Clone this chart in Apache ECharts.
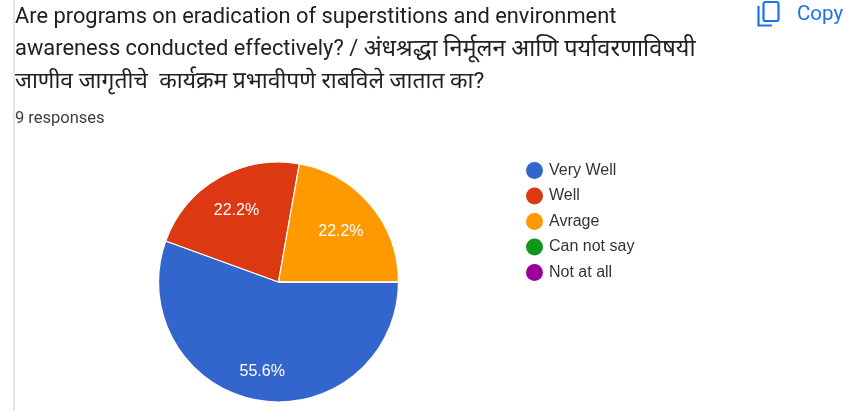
<!DOCTYPE html>
<html><head><meta charset="utf-8">
<style>html,body{margin:0;padding:0;background:#fff}#c{width:846px;height:411px}</style>
<script src="https://cdn.jsdelivr.net/npm/echarts@6/dist/echarts.min.js"></script>
</head><body><div id="c"></div>
<script>
const categories = ['Very Well','Well','Avrage','Can not say','Not at all'];
const responses = [5,2,2,0,0];
const colors = ['#3366cc','#dc3912','#ff9900','#109618','#990099'];
const titleLines = [
 '{en|Are programs on eradication of superstitions and environment}',
 '{en|awareness conducted effectively? / }{hi2|अंधश्रद्धा निर्मूलन आणि पर्यावरणाविषयी}',
 '{hi3|जाणीव जागृतीचे  कार्यक्रम प्रभावीपणे राबविले जातात का?}'
];
const subtitle = '9 responses';
const copyLabel = 'Copy';
const slices = categories.map((name,i)=>({name,value:responses[i]}));
const titleFont = 'Roboto, "Noto Sans", sans-serif';
const labelNudge = [[-1,3],[2,5],[-5,6],[0,0],[0,0]];
const chart = echarts.init(document.getElementById('c'),null,{renderer:'canvas'});
chart.setOption({
 animation:false,
 color:colors,
 title:[
  ...titleLines.map((t,i)=>({text:t,left:15,top:4+i*32,padding:0,textStyle:{fontFamily:titleFont,fontSize:22,fontWeight:400,color:'#212121',lineHeight:28,
    rich:{en:{fontFamily:titleFont,fontSize:21.85,color:'#212121',lineHeight:28},
          hi2:{fontFamily:titleFont,fontSize:23.5,color:'#212121',lineHeight:28},
          hi3:{fontFamily:titleFont,fontSize:22.85,color:'#212121',lineHeight:28}}}})),
  {text:subtitle,left:15,top:110,padding:0,textStyle:{fontFamily:titleFont,fontSize:16.5,fontWeight:400,color:'#3c4043',lineHeight:18}},
  {text:copyLabel,left:797,top:5,padding:0,textStyle:{fontFamily:titleFont,fontSize:20.5,fontWeight:400,color:'#1a73e8',lineHeight:20}}
 ],
 legend:{
  orient:'vertical',left:526,top:162,itemWidth:17,itemHeight:17,itemGap:8.5,icon:'circle',padding:0,
  itemStyle:{borderWidth:0},
  textStyle:{fontFamily:'"Liberation Sans", Arial, sans-serif',fontSize:16,color:'#333',padding:[0,0,0,1]},
  data:categories
 },
 series:[
  {type:'pie',center:[278.5,282],radius:[0,120],startAngle:0,clockwise:true,
   itemStyle:{borderColor:'#fff',borderWidth:1.2},label:{show:false},labelLine:{show:false},silent:true,data:slices},
  {type:'pie',center:[278.5,282],radius:[50,120],startAngle:0,clockwise:true,silent:true,
   itemStyle:{color:'rgba(0,0,0,0)',borderWidth:0},
   label:{show:true,position:'inside',color:'#fff',fontFamily:'"Liberation Sans", Arial, sans-serif',fontSize:16,
     formatter:p=>p.value>0?p.percent.toFixed(1)+'%':''},
   labelLayout:p=>({dx:labelNudge[p.dataIndex][0],dy:labelNudge[p.dataIndex][1]}),
   percentPrecision:1,labelLine:{show:false},data:slices}
 ],
 graphic:[
  {type:'rect',shape:{x:13,y:0,width:2,height:411},style:{fill:'#e3e5ea'},silent:true},
  {type:'rect',shape:{x:763.5,y:2,width:15,height:19,r:2},style:{fill:'none',stroke:'#1a73e8',lineWidth:2.2},silent:true},
  {type:'polyline',shape:{points:[[758.5,6],[758.5,25.5],[772,25.5]]},style:{fill:'none',stroke:'#1a73e8',lineWidth:2.2},silent:true}
 ]
});
</script></body></html>
